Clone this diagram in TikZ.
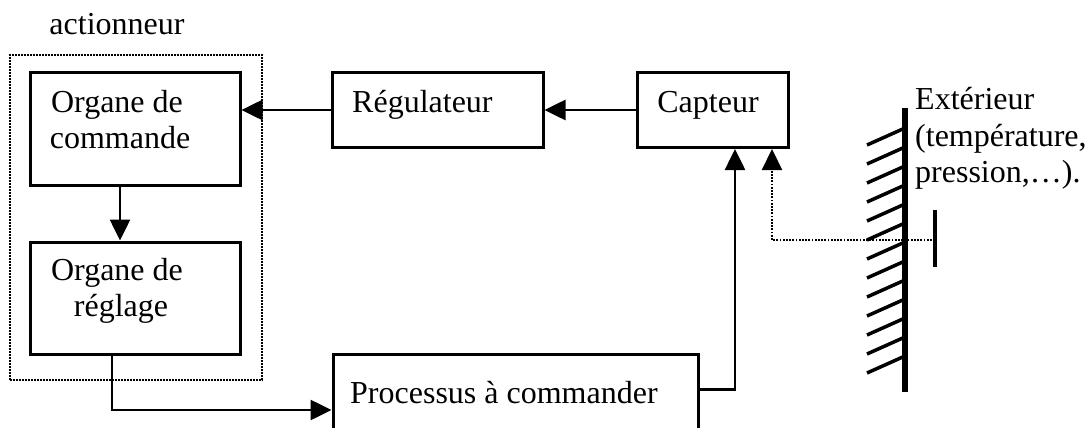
\documentclass[tikz,border=0pt]{standalone}
\usepackage{fontspec}
\setmainfont{Liberation Serif}
\usetikzlibrary{arrows.meta,calc}
\begin{document}
\begin{tikzpicture}[x=1pt,y=-1pt,
  font=\fontsize{32}{36}\selectfont,
  blk/.style={draw, line width=3pt, inner sep=0pt},
  dotbox/.style={draw, dash pattern=on 1.6pt off 1.4pt, line width=1.8pt, inner sep=0pt},
  txt/.style={anchor=base, inner sep=0pt},
  txtw/.style={anchor=base west, inner sep=0pt},
  arr/.style={line width=2.6pt, -{Triangle[width=20pt,length=21pt]}},
  dotl/.style={line width=2.2pt, dash pattern=on 1.8pt off 1.4pt}]
\useasboundingbox (0,0) rectangle (1090,428);
\clip (0,0) rectangle (1090,428);
\fill[white] (0,0) rectangle (1090,428);

% actuator group
\node[txt] (act) at (117,35) {actionneur};
\node[dotbox, minimum width=252pt, minimum height=325pt] (actbox) at (136,217.5) {};

% blocks
\node[blk, minimum width=210pt, minimum height=112pt] (cmd) at (135,129) {};
\node[txt] (cmd1) at (117,112) {Organe de};
\node[txt] (cmd2) at (120,148) {commande};

\node[blk, minimum width=210pt, minimum height=112pt] (regl) at (135,298) {};
\node[txt] (regl1) at (117,280) {Organe de};
\node[txt] (regl2) at (121,316) {réglage};

\node[blk, minimum width=211pt, minimum height=74pt] (reg) at (437.5,110) {};
\node[txtw] (regt) at (352,113) {Régulateur};

\node[blk, minimum width=151pt, minimum height=75pt] (cap) at (712.5,110) {};
\node[txt] (capt) at (708,112) {Capteur};

\node[blk, minimum width=365pt, minimum height=112pt] (proc) at (515.5,410) {};
\node[txtw] (proct) at (350,403) {Processus à commander};

% exterior wall
\coordinate (wtop) at (905,108);
\coordinate (wbot) at (905,392);
\draw[line width=5.5pt] (wtop) -- (wbot);
\foreach \i in {0,...,12}{
  \draw[line width=3.5pt] (867,{145+19*\i}) -- (905,{128+19*\i});
}
\coordinate (bartop) at (935,210);
\coordinate (barbot) at (935,267);
\draw[line width=4.5pt] (bartop) -- (barbot);
\coordinate (ext) at (935,240);
\node[txtw] (ex1) at (915,110) {Extérieur};
\node[txtw] (ex2) at (915,146) {(température,};
\node[txtw] (ex3) at (915,182) {pression,…).};

% connectors
\draw[arr] (reg.west) -- (reg.west -| cmd.east);
\draw[arr] (cap.west) -- (reg.east);
\draw[arr] ([xshift=-15pt]cmd.south) -- ([xshift=-15pt]regl.north);
\draw[arr] ([xshift=-23pt]regl.south) |- (proc.west);
\draw[arr] ([yshift=-37pt]proc.north east) -| ([xshift=22.5pt]cap.south);
\draw[dotl, -{Triangle[width=20pt,length=21pt]}] (ext) -| ([xshift=59.5pt]cap.south);
\end{tikzpicture}
\end{document}
